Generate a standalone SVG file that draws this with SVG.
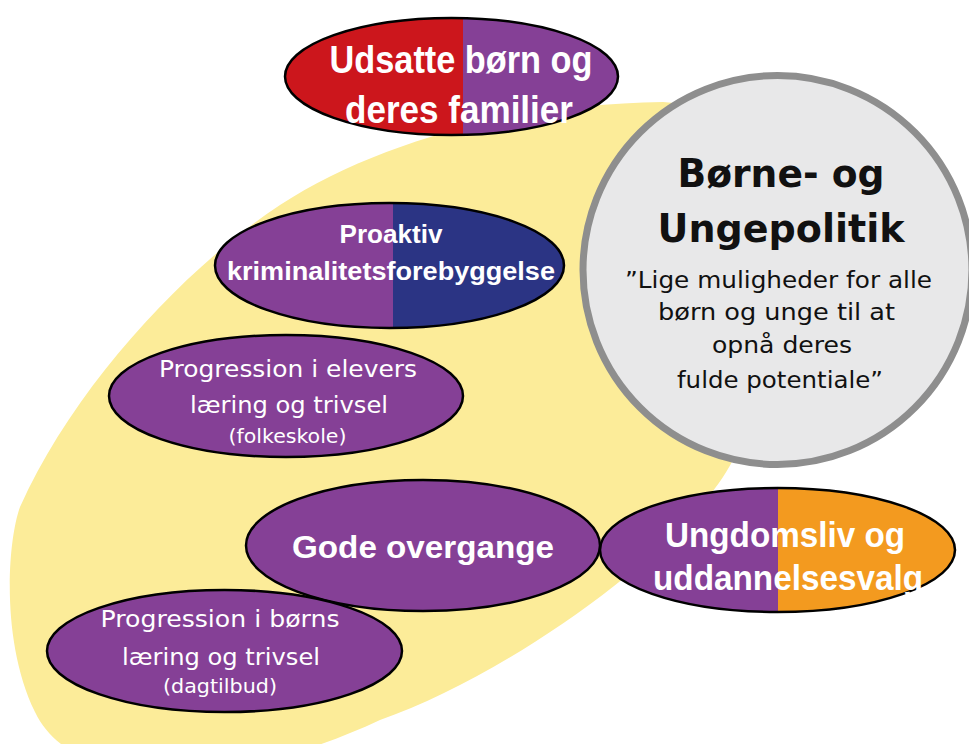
<svg xmlns="http://www.w3.org/2000/svg" width="969" height="744" viewBox="0 0 969 744">
<style>
.node{stroke:#000;stroke-width:2.5}
.bt{font-family:"Liberation Sans",Arial,sans-serif;font-weight:bold;fill:#fff;text-anchor:middle}
.rt{font-family:"DejaVu Sans","Liberation Sans",sans-serif;fill:#fff;text-anchor:middle}
.ct{font-family:"DejaVu Sans","Liberation Sans",sans-serif;fill:#111;text-anchor:middle}
</style>
<defs>
<linearGradient id="gUds" gradientUnits="userSpaceOnUse" x1="0" y1="0" x2="969" y2="0">
<stop offset="0" stop-color="#cc161c"/><stop offset="0.4778" stop-color="#cc161c"/><stop offset="0.4778" stop-color="#854096"/><stop offset="1" stop-color="#854096"/>
</linearGradient>
<linearGradient id="gPro" gradientUnits="userSpaceOnUse" x1="0" y1="0" x2="969" y2="0">
<stop offset="0" stop-color="#854096"/><stop offset="0.4053" stop-color="#854096"/><stop offset="0.4053" stop-color="#2b3484"/><stop offset="1" stop-color="#2b3484"/>
</linearGradient>
<linearGradient id="gUng" gradientUnits="userSpaceOnUse" x1="0" y1="0" x2="969" y2="0">
<stop offset="0" stop-color="#854096"/><stop offset="0.8032" stop-color="#854096"/><stop offset="0.8032" stop-color="#f39a1f"/><stop offset="1" stop-color="#f39a1f"/>
</linearGradient>
</defs>
<rect width="969" height="744" fill="#fff"/>
<path id="yellow" fill="#fcec99" d="M663,102 C520,104 380,140 280,205 C185,268 75,385 20,507 C8,540 0,640 35,712 C75,795 230,790 380,720 C510,675 690,545 733,460 C830,350 820,110 663,102 Z"/>
<g id="connectors"/>
<g id="n-udsatte">
<ellipse class="node" cx="451.5" cy="76.5" rx="166.5" ry="58.5" fill="url(#gUds)"/>
<text class="bt" x="461" y="73" font-size="39" textLength="263" lengthAdjust="spacingAndGlyphs">Udsatte børn og</text>
<text class="bt" x="459" y="123" font-size="39" textLength="228" lengthAdjust="spacingAndGlyphs">deres familier</text>
</g>
<g id="n-proaktiv">
<ellipse class="node" cx="389.5" cy="265.5" rx="174.5" ry="62.5" fill="url(#gPro)"/>
<text class="bt" x="391" y="243" font-size="25.5" textLength="103" lengthAdjust="spacingAndGlyphs">Proaktiv</text>
<text class="bt" x="391" y="280" font-size="25.5" textLength="328" lengthAdjust="spacingAndGlyphs">kriminalitetsforebyggelse</text>
</g>
<g id="n-elevers">
<ellipse class="node" cx="286" cy="396" rx="177" ry="61" fill="#854096"/>
<text class="rt" x="288" y="377" font-size="23.5" textLength="258" lengthAdjust="spacingAndGlyphs">Progression i elevers</text>
<text class="rt" x="289" y="413" font-size="23.5" textLength="198" lengthAdjust="spacingAndGlyphs">læring og trivsel</text>
<text class="rt" x="287.5" y="443" font-size="19" textLength="118" lengthAdjust="spacingAndGlyphs">(folkeskole)</text>
</g>
<g id="n-gode">
<ellipse class="node" cx="423" cy="545.5" rx="177" ry="65.5" fill="#854096"/>
<text class="bt" x="423" y="558" font-size="32" textLength="262" lengthAdjust="spacingAndGlyphs">Gode overgange</text>
</g>
<g id="n-boerns">
<ellipse class="node" cx="224.5" cy="651" rx="177.5" ry="61" fill="#854096"/>
<text class="rt" x="220" y="627" font-size="23.5" textLength="239" lengthAdjust="spacingAndGlyphs">Progression i børns</text>
<text class="rt" x="221" y="665" font-size="23.5" textLength="198" lengthAdjust="spacingAndGlyphs">læring og trivsel</text>
<text class="rt" x="220" y="693" font-size="19" textLength="114" lengthAdjust="spacingAndGlyphs">(dagtilbud)</text>
</g>
<g id="n-ungdom">
<ellipse class="node" cx="777.5" cy="550" rx="177.5" ry="62" fill="url(#gUng)"/>
<text class="bt" x="785" y="547" font-size="35" textLength="240" lengthAdjust="spacingAndGlyphs">Ungdomsliv og</text>
<text class="bt" x="788" y="590" font-size="35" textLength="270" lengthAdjust="spacingAndGlyphs">uddannelsesvalg</text>
</g>
<g id="n-politik">
<circle cx="777.5" cy="270" r="194.5" fill="#e8e8e9" stroke="#8e8e8e" stroke-width="7"/>
<text class="ct" x="781" y="187" font-size="39" font-weight="bold" textLength="207" lengthAdjust="spacingAndGlyphs">Børne- og</text>
<text class="ct" x="781" y="242" font-size="39" font-weight="bold" textLength="247" lengthAdjust="spacingAndGlyphs">Ungepolitik</text>
<text class="ct" x="778.5" y="288" font-size="23" textLength="307" lengthAdjust="spacingAndGlyphs">”Lige muligheder for alle</text>
<text class="ct" x="776.5" y="320" font-size="23" textLength="237" lengthAdjust="spacingAndGlyphs">børn og unge til at</text>
<text class="ct" x="782" y="353" font-size="23" textLength="140" lengthAdjust="spacingAndGlyphs">opnå deres</text>
<text class="ct" x="780" y="388" font-size="23" textLength="206" lengthAdjust="spacingAndGlyphs">fulde potentiale”</text>
</g>
</svg>
